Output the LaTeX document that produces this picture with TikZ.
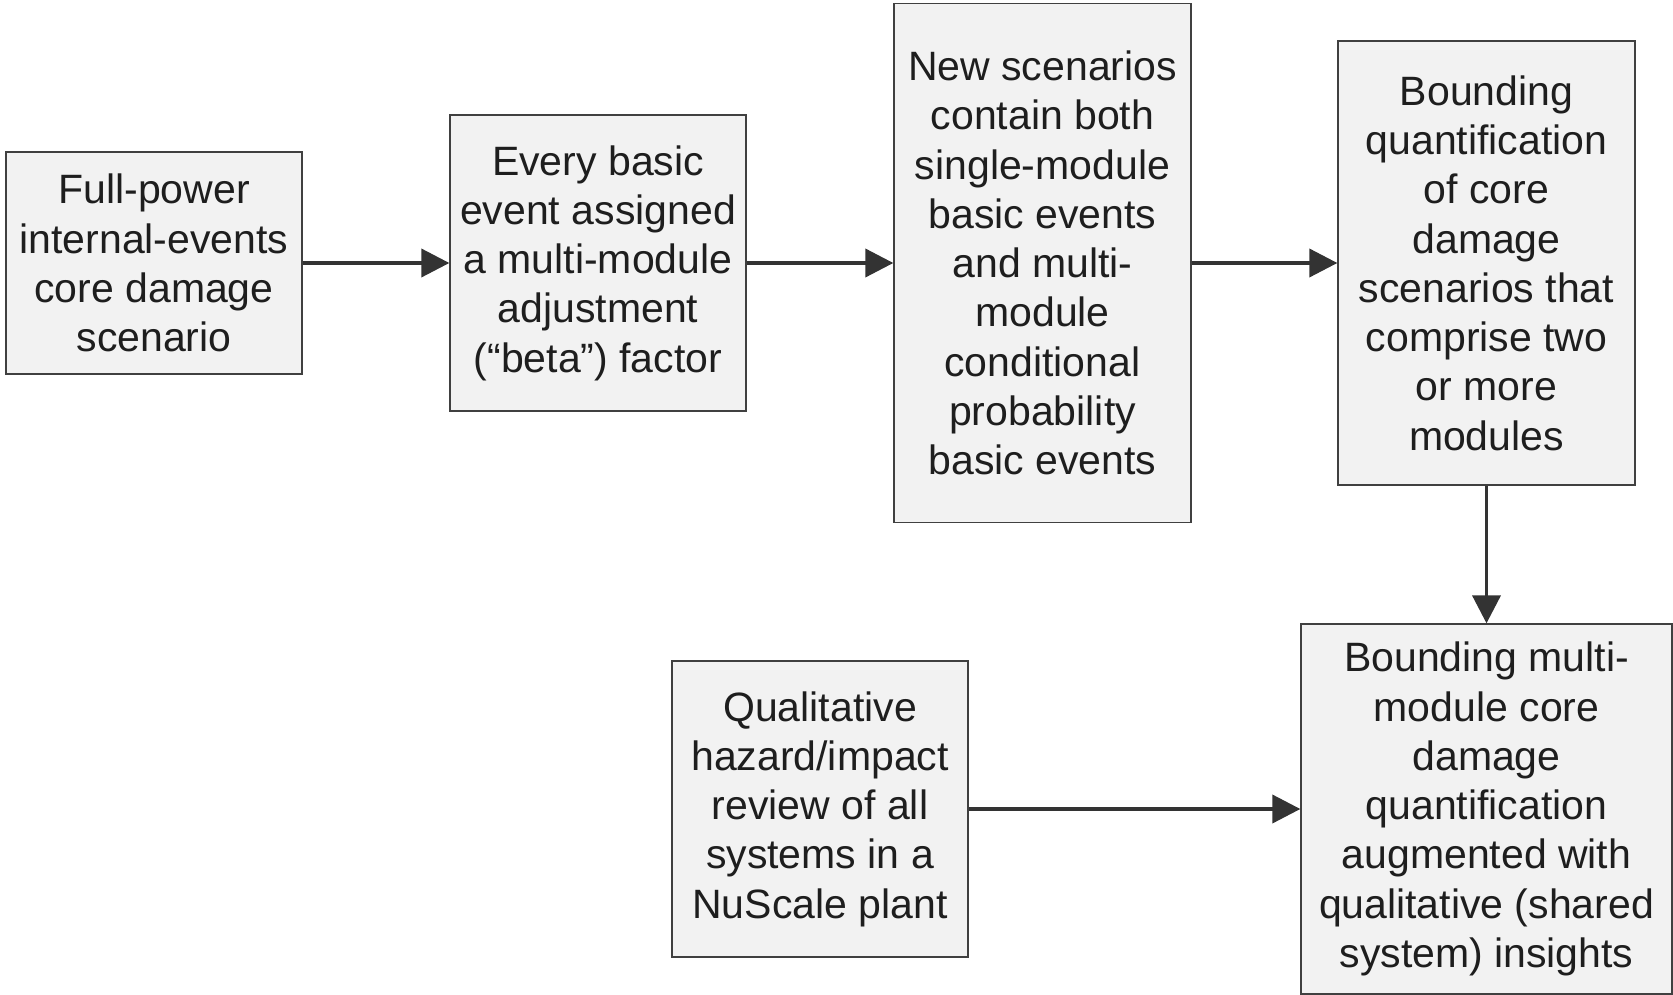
\documentclass[tikz,border=0pt]{standalone}
\usepackage{fontspec}
\setmainfont{Liberation Sans}
\usetikzlibrary{arrows.meta}
\definecolor{boxfill}{HTML}{F2F2F2}
\definecolor{boxline}{HTML}{404040}
\definecolor{arrowcol}{HTML}{333333}
\definecolor{txtcol}{HTML}{1E1E1E}
\begin{document}
\begin{tikzpicture}[x=1pt,y=-1pt,
  stepbox/.style={draw=boxline, fill=boxfill, line width=1.3pt, inner sep=0pt,
    align=center, text=txtcol, font=\fontsize{41}{49.3}\selectfont},
  flow/.style={draw=arrowcol, line width=3.8pt,
    -{Triangle[length=28pt,width=28pt]}}]
\useasboundingbox (0,0) rectangle (1673,995);

\node[stepbox, minimum width=296pt, minimum height=222pt] (full) at (154,263)
  {Full-power\\internal-events\\core damage\\scenario};
\node[stepbox, minimum width=296pt, minimum height=296pt] (beta) at (598,263)
  {Every basic\\event assigned\\a multi-module\\adjustment\\(“beta”) factor};
\node[stepbox, minimum width=297pt, minimum height=519pt] (newsc) at (1042.5,263)
  {New scenarios\\contain both\\single-module\\basic events\\and multi-\\module\\conditional\\probability\\basic events};
\node[stepbox, minimum width=297pt, minimum height=444pt] (bound) at (1486.5,263)
  {Bounding\\quantification\\of core\\damage\\scenarios that\\comprise two\\or more\\modules};
\node[stepbox, minimum width=371pt, minimum height=370pt] (multi) at (1486.5,809)
  {Bounding multi-\\module core\\damage\\quantification\\augmented with\\qualitative (shared\\system) insights};
\node[stepbox, minimum width=296pt, minimum height=296pt] (qual) at (820,809)
  {Qualitative\\hazard/impact\\review of all\\systems in a\\NuScale plant};

\draw[flow] (full.east) -- (beta.west);
\draw[flow] (beta.east) -- (newsc.west);
\draw[flow] (newsc.east) -- (bound.west);
\draw[flow] (bound.south) -- (multi.north);
\draw[flow] (qual.east) -- (multi.west);
\end{tikzpicture}
\end{document}
